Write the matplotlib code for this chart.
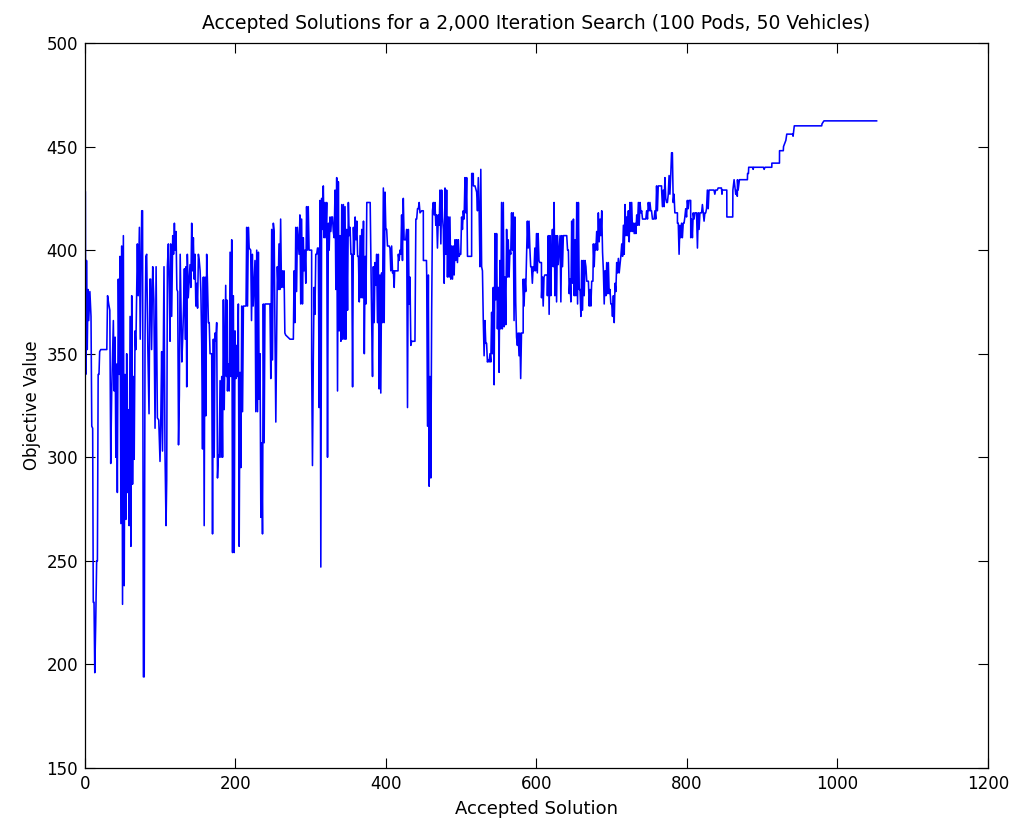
import matplotlib
matplotlib.use("Agg")
import matplotlib.pyplot as plt

# (accepted solution index, objective value), in pieces
seg1 = [(0.5, 428), (1, 340), (2, 395), (3, 352), (4, 381), (5, 366), (6.5, 380), (8, 368), (9, 315),
        (10.2, 314), (11, 230), (12, 230), (13, 196), (14.2, 219), (15.5, 250), (16.5, 250), (17.5, 340),
        (18.6, 340), (19.5, 351), (21, 352), (29, 352), (30, 378), (31.5, 374), (33, 371), (34.2, 297),
        (35.5, 332), (37.7, 366), (38.8, 332), (40, 358), (41, 300), (42, 345), (43, 283), (44.3, 386),
        (45.5, 340), (46.6, 397), (47.7, 268), (48.8, 402), (49.9, 229), (51, 407), (52.1, 238), (53.2, 340),
        (54.3, 270), (55.4, 350), (56.5, 283), (57.6, 323), (58.7, 267), (59.9, 368), (61, 257), (62.1, 378),
        (63.2, 287), (64.3, 339), (65.4, 299), (66.5, 361), (67.6, 352), (69.6, 403), (70.7, 378), (72.3, 411),
        (73.4, 357), (75.4, 419), (76.5, 419), (77.6, 194), (78.7, 194), (79.8, 358), (80.9, 397), (82, 398),
        (83.5, 353), (85.1, 321), (86.2, 386), (87.3, 386), (88.5, 352), (90, 392), (91.5, 376), (93.1, 314),
        (94.5, 392), (96.2, 319), (98, 318), (99.7, 298), (100.8, 320), (101.9, 351), (103, 303), (105, 392),
        (106.3, 303), (107.7, 267), (108.6, 289), (109.5, 392), (110.8, 403), (112.1, 379), (113, 356),
        (113.9, 403), (115.2, 368), (116.6, 407), (117.7, 398), (118.8, 413), (119.9, 400), (121, 409),
        (122.1, 381), (123.2, 380), (124.3, 306), (125.4, 330), (126.5, 398), (127.6, 373), (128.7, 346),
        (129.8, 357), (131, 372), (132.1, 391), (133.2, 357), (134.3, 392), (135.2, 334), (136, 398),
        (137.2, 377), (139.6, 393), (140.7, 382), (141.8, 413), (142.9, 390), (144, 406), (145.1, 386),
        (146.2, 398), (147.3, 373), (148.5, 384), (149.6, 372), (150.7, 398), (151.8, 395), (153, 390),
        (154, 380), (155.1, 355), (156.2, 304), (157.3, 387), (158.4, 267), (159.5, 387), (160.6, 320),
        (161.7, 398), (162.8, 384), (164, 365), (165.1, 365), (166.2, 350), (167.3, 350), (168.4, 350),
        (169.5, 263), (170.6, 357), (171.7, 300), (172.8, 360), (173.9, 356), (175, 365), (176.1, 290),
        (177.2, 301), (178.3, 300), (179.5, 337), (180.6, 300), (181.7, 339), (182.8, 300), (183.9, 376),
        (185, 323), (187, 383), (188, 339), (188.3, 376), (189.4, 332), (190.5, 345), (191.6, 332),
        (192.8, 399), (193.9, 339), (195, 405), (196.1, 254), (197.2, 378), (198.3, 254), (199.4, 361),
        (200.5, 338), (201.6, 354), (202.7, 339), (203.8, 374), (204.9, 257), (206, 341), (207.1, 295),
        (208.3, 373), (209.4, 322), (210.5, 373), (214, 373), (214.9, 411), (216, 373), (217.1, 411),
        (218.2, 401)]

seg2 = [(220.2, 400), (221.3, 366), (222.4, 398), (223.5, 373), (225.9, 395), (227, 322), (228.2, 400),
        (229.3, 322), (230.4, 399), (231.5, 328), (232.6, 350), (233.7, 271), (234.8, 307), (235.9, 263),
        (237, 374), (238.1, 307), (239.2, 374), (245.8, 374), (246.9, 338), (248.1, 410), (249.2, 347),
        (250.3, 413), (251.4, 409), (252.5, 359), (253.6, 317), (255.6, 392), (256.7, 381), (257.8, 403),
        (258.9, 381), (260, 415), (261.1, 382), (262.3, 390), (263.4, 382), (264.5, 390), (265.6, 360),
        (266.7, 359), (272.4, 357), (276.9, 357), (277.9, 390), (279, 365), (280.1, 411), (281.2, 380),
        (282.3, 411), (284.5, 398), (285.6, 417), (286.7, 374), (287.9, 415), (289, 374), (290.1, 406),
        (291.2, 390), (292.3, 400), (293.4, 384), (294.5, 421), (295.6, 400), (296.7, 421), (297.8, 400),
        (301.2, 400), (301.2, 347), (302.3, 296), (303.4, 347), (304.5, 382), (305.6, 369), (306.7, 398),
        (307.9, 398), (309, 401), (310.1, 401), (311.2, 324), (312.3, 424), (313.4, 247), (314.5, 425),
        (315.6, 410), (316.7, 431), (317.8, 406), (319, 423), (320.1, 406), (321.2, 423), (322.3, 300),
        (323.4, 413), (324.5, 400), (325.6, 416), (326.7, 409), (327.8, 416), (328.9, 416), (330, 409),
        (331.1, 406), (332.3, 429), (333.4, 381), (334.5, 435), (335.6, 332), (336.7, 433), (337.8, 361),
        (339, 407), (340.1, 356), (341.2, 422), (342.3, 357), (343.4, 422), (344.5, 357), (345.6, 421),
        (346.7, 357), (347.8, 410), (348.9, 371), (350, 423), (351.1, 407), (352.3, 411), (353.4, 398),
        (354.5, 398), (355.6, 334), (356.7, 411), (357.8, 398), (359, 416), (360.1, 405), (361.2, 414),
        (362.3, 397), (363.4, 397), (364.5, 375), (365.6, 407), (366.7, 377), (367.8, 410), (369, 377),
        (370.1, 414), (371.2, 350), (372.3, 397), (373.4, 374), (374.5, 423), (375.6, 423), (379, 423),
        (381, 365), (382.1, 339), (383.2, 392), (384.3, 365), (385.4, 394), (386.5, 383), (387.6, 398),
        (388.7, 365), (389.8, 398), (390.9, 333), (392, 388), (393.1, 331), (394.2, 389), (395.3, 365),
        (396.5, 430), (397.6, 365), (398.7, 428), (399.8, 410), (400.9, 410), (402, 402), (403.1, 402),
        (404.2, 402), (405.3, 401), (406.4, 390), (407.5, 402), (408.7, 389), (409.8, 390), (410.9, 382),
        (411.5, 390), (416, 390), (416.4, 398), (417.5, 395), (418.6, 400), (419.7, 398), (420.8, 417),
        (421.9, 395), (423, 425), (424.1, 405), (425.3, 405), (426.4, 405), (427.5, 410), (428.6, 324),
        (429.7, 410), (430.8, 374)]

seg3 = [(431.9, 387), (433, 354), (434.1, 356), (438.5, 356), (439.7, 415), (440.8, 415), (441.9, 420),
        (443, 420), (444.1, 423), (445.2, 418), (447.4, 419), (449.6, 419), (449.7, 395), (453.8, 395),
        (454.1, 388), (455.2, 315), (456.3, 388), (457.4, 286), (458.5, 339), (459.6, 290), (460.7, 370),
        (461.8, 419), (462.9, 423), (464, 417), (465.1, 423), (466.2, 412), (467.3, 417), (468.4, 401),
        (469.6, 417), (470.7, 412), (471.8, 429), (472.9, 403), (474, 429), (475.1, 416), (476.2, 410),
        (477.3, 384), (478.4, 430), (479.5, 398), (480.6, 429), (481.7, 387), (482.8, 416), (483.9, 387),
        (485, 416), (486.1, 386), (487.3, 402), (488.4, 386), (489.5, 402), (490.6, 388), (491.7, 405),
        (492.8, 395), (493.9, 405), (495, 394), (496.1, 405), (497.2, 397), (498.3, 398), (499.4, 398),
        (500.5, 416), (501.6, 410), (502.7, 419), (503.8, 415), (505, 435), (506.1, 418), (507.2, 435),
        (508.3, 397), (509.4, 397), (513.8, 397), (513.9, 437), (516, 437), (516.1, 431), (518.3, 431),
        (520.5, 428), (521.6, 419), (522.7, 435), (523.8, 419), (524.9, 392), (526, 439), (527.1, 392),
        (528.2, 390), (529.3, 366), (530.4, 349), (531.5, 366), (532.6, 355), (533.7, 355), (534.8, 346),
        (535.9, 347), (537, 346), (538.2, 350), (539.3, 346), (540.4, 370), (541.5, 350), (542.6, 382),
        (543.7, 335), (544.8, 408), (545.9, 376), (547, 408), (548.1, 362), (549.2, 382), (550.3, 341),
        (551.4, 395), (552.5, 362), (553.6, 423), (554.7, 362), (555.9, 423), (557, 363), (558.1, 387),
        (559.2, 364), (560.3, 410), (561.4, 387), (562.5, 405), (563.6, 387), (564.7, 400), (565.8, 398),
        (566.9, 418), (568, 400), (569.1, 418), (570.2, 366), (571.3, 416), (572.4, 375), (573.5, 358),
        (574.6, 354), (575.7, 360), (576.8, 349), (577.9, 360), (579, 338), (580.1, 360), (582.3, 360),
        (582.4, 386), (583.5, 373), (584.6, 386), (585.7, 380), (586.8, 397), (587.9, 414), (589, 401),
        (590.1, 414), (591.2, 401), (592.3, 392), (593.4, 392), (594.5, 384), (595.6, 392), (596.7, 390),
        (597.8, 401), (598.9, 390), (600, 408), (601.1, 389), (602.2, 408), (603.3, 395), (604.4, 394),
        (606.6, 394), (606.7, 377), (607.8, 387), (608.9, 373), (610, 387), (611.1, 388), (614.4, 388),
        (614.5, 378), (615.7, 407), (616.8, 369), (617.9, 407), (619, 378), (620.1, 400), (621.2, 410),
        (622.3, 392), (623.4, 423), (624.5, 378), (625.6, 407), (626.7, 375), (627.8, 407), (628.9, 393)]

seg4 = [(631.3, 407), (632.4, 375), (633.5, 407), (634.6, 392), (635.7, 407), (640.2, 407), (641.3, 400),
        (642.4, 400), (643.5, 379), (644.6, 386), (645.7, 375), (646.8, 414), (648, 384), (649.1, 415),
        (650.2, 378), (651.3, 405), (652.4, 378), (653.5, 423), (654.6, 374), (655.7, 423), (656.8, 381),
        (657.9, 381), (659, 368), (660.1, 395), (661.2, 371), (662.3, 395), (663.4, 378), (664.5, 395),
        (665.7, 392), (666.8, 385), (669, 385), (670.1, 373), (671.2, 381), (672.3, 373), (673.4, 385),
        (675, 385), (675.6, 403), (676.7, 392), (677.8, 403), (678.9, 400), (680, 409), (681.1, 400),
        (682.2, 418), (683.3, 404), (684.5, 415), (685.6, 407), (686.7, 419), (687.8, 399), (688.9, 390),
        (690, 374), (691.1, 390), (692.2, 378), (693.3, 394), (694.4, 379), (695.5, 394), (696.6, 379),
        (697.7, 381), (698.8, 374), (700, 374), (701, 368), (702.2, 378), (703.3, 365), (704.4, 384),
        (705.5, 380), (706.6, 394), (707.7, 389), (708.8, 396), (709.9, 389), (711, 393), (712.1, 397),
        (713.3, 403), (714.4, 397), (715.5, 412), (716.6, 398), (717.7, 422), (718.8, 407), (719.9, 416),
        (721, 407), (722.1, 419), (723.2, 404), (724.3, 423), (725.4, 409), (726.5, 423), (727.6, 409),
        (728.8, 413), (729.9, 408), (731, 413), (732.1, 408), (733.2, 417), (734.3, 412), (735.4, 423),
        (736.5, 412), (737.6, 423), (738.7, 418), (739.8, 419), (740.9, 415), (745.3, 415), (746.4, 419),
        (747.5, 415), (748.6, 423), (749.7, 419), (750.8, 423), (751.9, 419), (752.9, 419), (754.1, 415),
        (756.3, 415), (757.4, 419), (758.5, 415), (759.6, 431), (760.7, 419), (761.8, 431), (766.2, 431),
        (766.3, 429), (767.4, 421), (768.5, 429), (769.6, 421), (770.7, 435), (771.8, 425), (772.9, 423),
        (774, 423), (775.1, 427), (776.2, 436), (777.3, 427), (778.4, 436), (779.5, 447), (780.6, 447),
        (781.7, 423), (782.8, 427), (783.9, 418), (787.3, 418), (787.3, 413), (788.4, 413), (789.5, 398),
        (790.6, 412), (791.7, 406), (792.8, 413), (793.9, 406), (795, 413), (796.1, 413), (797.2, 416),
        (798.3, 420), (799.4, 416), (800.5, 424), (801.6, 420), (802.7, 424), (804.9, 424), (805, 406),
        (806.1, 415), (807.2, 406), (808.3, 418), (809.4, 415), (810.5, 418), (812.7, 418), (813.9, 401),
        (815, 418), (816.1, 410), (817.2, 418), (819.4, 418), (820.5, 422), (821.6, 418), (822.7, 414),
        (823.8, 418), (824.9, 418), (826, 420), (827.1, 429), (828.2, 420), (829.3, 429), (835.9, 429),
        (837, 427), (838.1, 429), (840.3, 429), (841.4, 430), (845.8, 430)]

seg5 = [(846, 429), (846.5, 427), (847, 429), (852.9, 429), (853, 416), (860.8, 416), (861, 429),
        (862.6, 434), (864.8, 427), (865, 429), (866.9, 426), (867.1, 434), (868, 429), (869.7, 434),
        (880.3, 434), (880.5, 437), (881.7, 437), (882, 440), (887.4, 440), (887.9, 439), (888.5, 440),
        (901.6, 440), (902.5, 439), (903.7, 440), (912.7, 440), (912.8, 442), (922.9, 442), (923, 448),
        (928, 448), (928.3, 450), (930.4, 452), (931.4, 453), (932.6, 456), (940.6, 456), (941, 455),
        (942.6, 460), (979, 460), (979.5, 461), (982, 462.4), (1052, 462.4)]

points = seg1 + seg2 + seg3 + seg4 + seg5
accepted = [p[0] for p in points]
objective = [p[1] for p in points]

plt.rcParams['font.family'] = ['DejaVu Sans']

fig = plt.figure(figsize=(10.13, 8.25), dpi=100)
ax = fig.add_axes([0.0839, 0.0691, 0.8914, 0.8788])

ax.plot(accepted, objective, color='#0000ff', linewidth=1.15)

ax.set_xlim(0, 1200)
ax.set_ylim(150, 500)
ax.set_xticks(range(0, 1201, 200))
ax.set_yticks(range(150, 501, 50))
ax.tick_params(direction='in', length=7, width=0.8, top=True, right=True, labelsize=12, pad=5)
for s in ax.spines.values():
    s.set_linewidth(0.9)

ax.set_title('Accepted Solutions for a 2,000 Iteration Search (100 Pods, 50 Vehicles)', fontsize=13.5, pad=10)
ax.set_xlabel('Accepted Solution', fontsize=13, labelpad=5)
ax.set_ylabel('Objective Value', fontsize=12, labelpad=4)

fig.savefig('out.png', dpi=100)
